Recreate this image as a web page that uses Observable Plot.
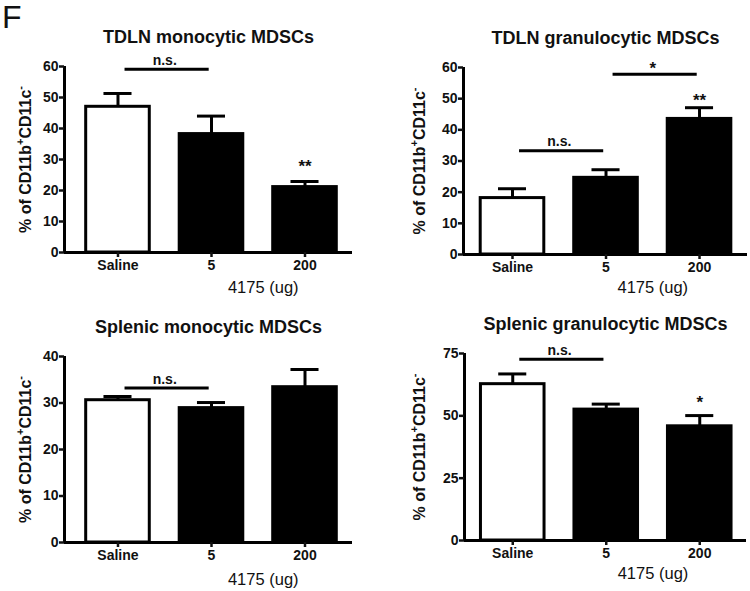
<!DOCTYPE html>
<html><head><meta charset="utf-8">
<script src="https://cdn.jsdelivr.net/npm/d3@7"></script>
<script src="https://cdn.jsdelivr.net/npm/@observablehq/plot@0.6"></script>
<style>
body{margin:0;background:#fff;}
#fig{position:relative;width:750px;height:591px;font-family:"Liberation Sans",Arial,sans-serif;overflow:hidden;background:#fff;}
#fig svg{position:absolute;overflow:visible;background:transparent !important;}
#panelLetter{position:absolute;left:2px;top:1px;font-size:32px;line-height:32px;color:#111;}
</style></head><body><div id="fig"><div id="panelLetter">F</div></div>
<script>
// ---- data ----
const groups = ["Saline", "5", "200"];
const xLabel = "4175 (ug)";
const yLabelParts = ["% of CD11b", "+", "CD11c", "-"];

const tdlnMonoTitle = "TDLN monocytic MDSCs";
const tdlnMonoMean = [47.0, 38.2, 21.1];
const tdlnMonoErr  = [51.3, 44.0, 22.9];
const tdlnMonoStars = ["", "", "**"];
const tdlnMonoStarY = [null, null, 29.0];
const tdlnMonoSig = [{from: 0, to: 1, y: 59.1, label: "n.s."}];
const tdlnMonoTicks = [0, 10, 20, 30, 40, 50, 60];

const tdlnGranTitle = "TDLN granulocytic MDSCs";
const tdlnGranMean = [18.1, 24.6, 43.5];
const tdlnGranErr  = [21.1, 27.2, 47.1];
const tdlnGranStars = ["", "", "**"];
const tdlnGranStarY = [null, null, 50.6];
const tdlnGranSig = [{from: 0, to: 1, y: 33.3, label: "n.s."}, {from: 1, to: 2, y: 57.8, label: "*"}];
const tdlnGranTicks = [0, 10, 20, 30, 40, 50, 60];

const splMonoTitle = "Splenic monocytic MDSCs";
const splMonoMean = [30.6, 28.9, 33.4];
const splMonoErr  = [31.4, 30.1, 37.2];
const splMonoStars = ["", "", ""];
const splMonoStarY = [null, null, null];
const splMonoSig = [{from: 0, to: 1, y: 33.2, label: "n.s."}];
const splMonoTicks = [0, 10, 20, 30, 40];

const splGranTitle = "Splenic granulocytic MDSCs";
const splGranMean = [62.7, 52.5, 45.8];
const splGranErr  = [66.8, 54.7, 50.1];
const splGranStars = ["", "", "*"];
const splGranStarY = [null, null, 57.0];
const splGranSig = [{from: 0, to: 1, y: 72.7, label: "n.s."}];
const splGranTicks = [0, 25, 50, 75];

// ---- layout ----
const panels = [
  {title: tdlnMonoTitle, mean: tdlnMonoMean, err: tdlnMonoErr, stars: tdlnMonoStars, starY: tdlnMonoStarY, sig: tdlnMonoSig, ticks: tdlnMonoTicks,
   left: 0, top: 0, height: 290, ml: 64, mr: 23, mt: 66, mb: 38, xd: [-0.572, 2.508], ylabDx: -39, xlabDx: 5, xlabDy: 35},
  {title: tdlnGranTitle, mean: tdlnGranMean, err: tdlnGranErr, stars: tdlnGranStars, starY: tdlnGranStarY, sig: tdlnGranSig, ticks: tdlnGranTicks,
   left: 375, top: 0, height: 290, ml: 88, mr: 3, mt: 67, mb: 36, xd: [-0.524, 2.513], ylabDx: -44, xlabDx: 0, xlabDy: 33},
  {title: splMonoTitle, mean: splMonoMean, err: splMonoErr, stars: splMonoStars, starY: splMonoStarY, sig: splMonoSig, ticks: splMonoTicks,
   left: 0, top: 290, height: 301, ml: 64, mr: 23, mt: 66, mb: 49, xd: [-0.572, 2.508], ylabDx: -39, xlabDx: 5, xlabDy: 37},
  {title: splGranTitle, mean: splGranMean, err: splGranErr, stars: splGranStars, starY: splGranStarY, sig: splGranSig, ticks: splGranTicks,
   left: 375, top: 290, height: 301, ml: 89, mr: 4, mt: 63, mb: 51, xd: [-0.516, 2.5], ylabDx: -45, xlabDx: 0, xlabDy: 33}
];

const half = 0.34;
const capHalf = 0.15;
const fig = document.getElementById("fig");

for (const p of panels) {
  const rows = groups.map((g, i) => ({i, group: g, mean: p.mean[i], err: p.err[i], star: p.stars[i], starY: p.starY[i]}));
  const yMax = p.ticks[p.ticks.length - 1];
  const ns = p.sig.filter(d => d.label === "n.s.");
  const st = p.sig.filter(d => d.label !== "n.s.");
  const svg = Plot.plot({
    width: 375, height: p.height,
    marginLeft: p.ml, marginRight: p.mr, marginTop: p.mt, marginBottom: p.mb,
    style: {fontFamily: "'Liberation Sans', Arial, sans-serif", fontSize: "14px", fontWeight: "bold", color: "#111", background: "transparent", overflow: "visible"},
    x: {type: "linear", domain: p.xd, axis: null},
    y: {domain: [0, yMax], axis: null},
    marks: [
      Plot.rectY(rows, {x1: d => d.i - half, x2: d => d.i + half, y1: 0, y2: "mean",
        fill: d => d.i === 0 ? "white" : "black", stroke: "black", strokeWidth: 3}),
      Plot.ruleX(rows, {x: "i", y1: "mean", y2: "err", stroke: "black", strokeWidth: 3}),
      Plot.ruleY(rows, {y: "err", x1: d => d.i - capHalf, x2: d => d.i + capHalf, stroke: "black", strokeWidth: 3}),
      Plot.ruleX([p.xd[0]], {y1: 0, y2: yMax, stroke: "black", strokeWidth: 3}),
      Plot.ruleY([0], {stroke: "black", strokeWidth: 3}),
      Plot.axisY({ticks: p.ticks, tickSize: 5, tickPadding: 1, strokeWidth: 2.5, label: null, fontSize: 14, fontWeight: "bold"}),
      Plot.axisX({ticks: [0, 1, 2], tickFormat: i => groups[i], tickSize: 5, tickPadding: 3, strokeWidth: 2.5, label: null, fontSize: 14, fontWeight: "bold"}),
      Plot.link(p.sig, {x1: d => d.from + 0.07, x2: d => d.to - 0.03, y1: "y", y2: "y", stroke: "black", strokeWidth: 3}),
      Plot.text(ns, {x: d => (d.from + d.to) / 2, y: "y", text: "label", dy: -9, fontSize: 14, fontWeight: "bold"}),
      Plot.text(st, {x: d => (d.from + d.to) / 2, y: "y", text: "label", dy: -6, fontSize: 17, fontWeight: "bold"}),
      Plot.text(rows.filter(d => d.star), {x: "i", y: "starY", text: "star", fontSize: 17, fontWeight: "bold", dy: 4}),
      Plot.text([p.title], {frameAnchor: "top", lineAnchor: "middle", dy: -29, fontSize: 18, fontWeight: "bold"}),
      Plot.text([xLabel], {x: 1.5, frameAnchor: "bottom", lineAnchor: "middle", dx: p.xlabDx, dy: p.xlabDy, fontSize: 16.5, fontWeight: "normal"}),
      Plot.text([yLabelParts.join("")], {frameAnchor: "left", textAnchor: "middle", dx: p.ylabDx, rotate: -90, fontSize: 16, fontWeight: "bold"})
    ]
  });
  svg.style.left = p.left + "px";
  svg.style.top = p.top + "px";
  // superscripts in the y label
  d3.select(svg).selectAll("text").filter(function() { return this.textContent === yLabelParts.join(""); }).each(function() {
    const t = d3.select(this);
    t.text(null);
    t.append("tspan").text(yLabelParts[0]);
    t.append("tspan").attr("font-size", "11px").attr("dy", "-7").text(yLabelParts[1]);
    t.append("tspan").attr("dy", "7").text(yLabelParts[2]);
    t.append("tspan").attr("font-size", "11px").attr("dy", "-7").text(yLabelParts[3]);
  });
  fig.appendChild(svg);
}
</script></body></html>
